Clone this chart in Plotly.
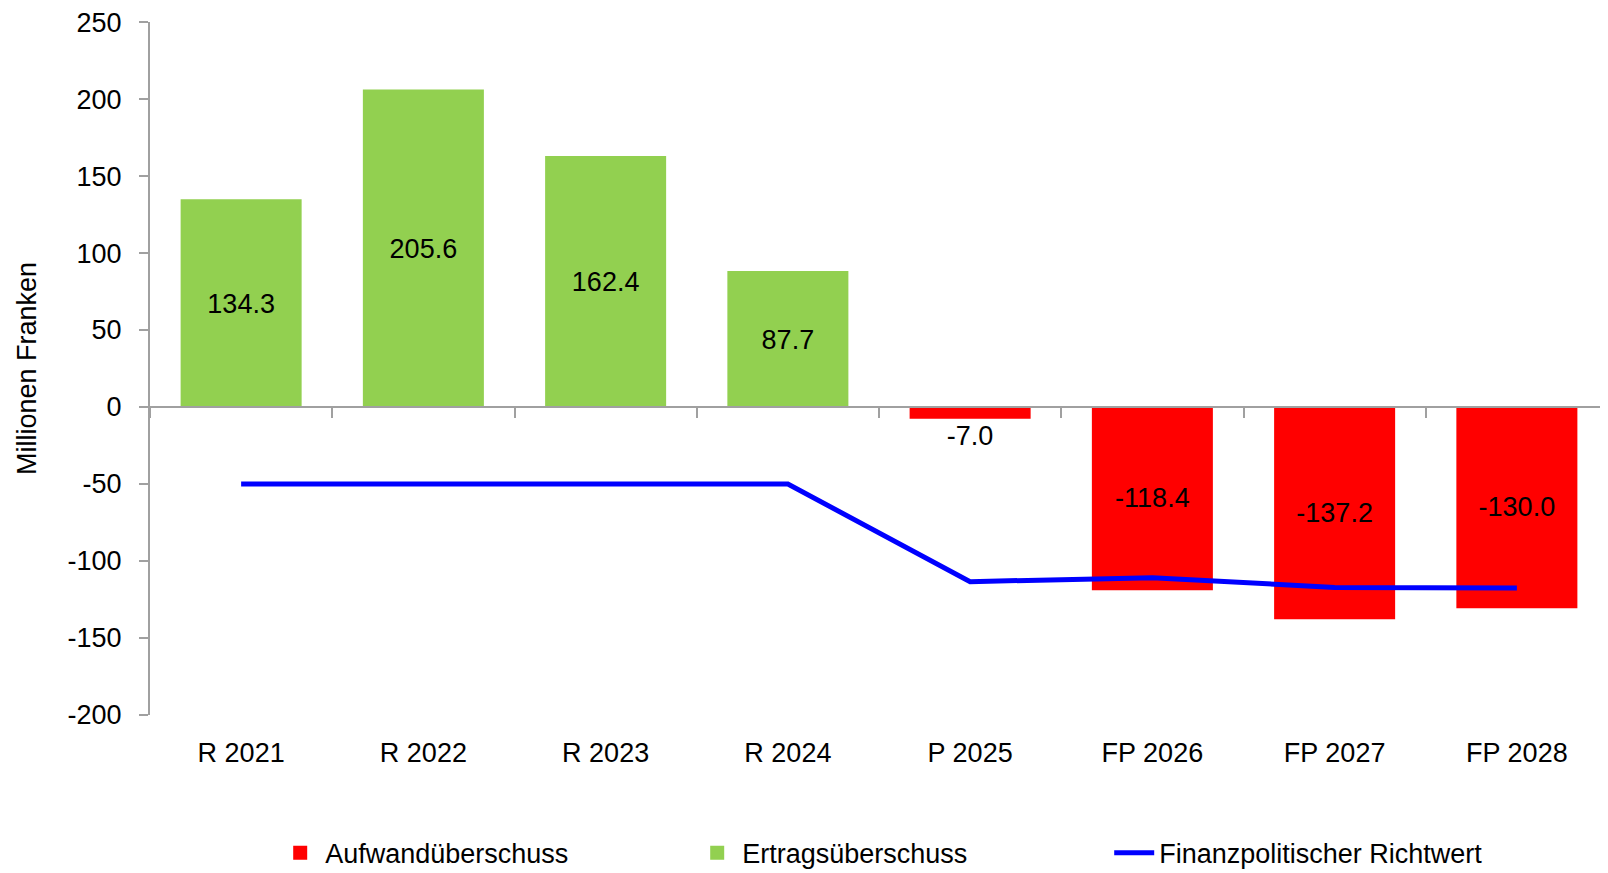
import plotly.graph_objects as go

# Kategorien und Werte
jahre = ['R 2021', 'R 2022', 'R 2023', 'R 2024', 'P 2025', 'FP 2026', 'FP 2027', 'FP 2028']
saldo = [134.3, 205.6, 162.4, 87.7, -7.0, -118.4, -137.2, -130.0]
richtwert = [-50, -50, -50, -50, -113.4, -110.8, -117.2, -117.5]

y_ticks = [-200, -150, -100, -50, 0, 50, 100, 150, 200, 250]
y_ticktext = ['-200', '-150', '-100', '-50', '0', '50', '100', '150', '200', '250']

aufwand = [v if v < 0 else None for v in saldo]
ertrag = [v if v >= 0 else None for v in saldo]

FONT = 'Liberation Sans Narrow, Arial Narrow, Liberation Sans, Arial, sans-serif'
FS = 27

fig = go.Figure()

# Aufwandüberschuss (negativ)
fig.add_trace(go.Bar(
    x=jahre, y=aufwand, name='Aufwandüberschuss',
    marker=dict(color='#FF0000', line=dict(color='#FF0000', width=2)),
    text=[f'{v:.1f}' if v is not None else '' for v in aufwand],
    textposition=['outside' if (v is not None and v > -20) else 'inside' for v in aufwand],
    insidetextanchor='middle', constraintext='none', cliponaxis=False,
    textfont=dict(color='black', size=FS, family=FONT),
    hoverinfo='skip'
))

# Ertragsüberschuss (positiv)
fig.add_trace(go.Bar(
    x=jahre, y=ertrag, name='Ertragsüberschuss',
    marker=dict(color='#92D050', line=dict(color='#92D050', width=2)),
    text=[f'{v:.1f}' if v is not None else '' for v in ertrag],
    textposition='inside', insidetextanchor='middle', constraintext='none',
    textfont=dict(color='black', size=FS, family=FONT),
    hoverinfo='skip'
))

# Finanzpolitischer Richtwert
fig.add_trace(go.Scatter(
    x=jahre, y=richtwert, name='Finanzpolitischer Richtwert',
    mode='lines', line=dict(color='#0000FF', width=5),
    hoverinfo='skip'
))

fig.update_layout(
    width=1600, height=865,
    barmode='relative', bargap=0.347,
    plot_bgcolor='white', paper_bgcolor='white',
    font=dict(family=FONT, size=FS, color='black'),
    margin=dict(l=142, r=0, t=14, b=158, autoexpand=False),
    showlegend=True,
    legend=dict(
        orientation='h', x=0.167, xref='container', xanchor='left',
        y=0.023, yref='container', yanchor='middle',
        entrywidth=362, entrywidthmode='pixels',
        font=dict(size=FS, family=FONT), traceorder='normal',
        itemwidth=40
    ),
    xaxis=dict(
        anchor='free', position=200 / 450,
        showline=True, linecolor='#A0A0A0', linewidth=2,
        ticks='outside', tickson='boundaries', ticklen=10,
        tickcolor='#A0A0A0', tickwidth=2,
        ticklabelstandoff=322, showgrid=False, zeroline=False,
        range=[-0.5, 7.5], automargin=False,
        tickfont=dict(size=FS, family=FONT)
    ),
    yaxis=dict(
        range=[-200, 250.05], tickvals=y_ticks, ticktext=y_ticktext,
        ticklabeloverflow='allow',
        showline=True, linecolor='#A0A0A0', linewidth=2,
        ticks='outside', ticklen=9, tickcolor='#A0A0A0', tickwidth=2,
        ticklabelstandoff=12, showgrid=False, zeroline=False,
        automargin=False,
        title=dict(text='Millionen Franken', standoff=23,
                   font=dict(size=FS, family=FONT)),
        tickfont=dict(size=FS, family=FONT)
    )
)

fig.write_html('out.html')
